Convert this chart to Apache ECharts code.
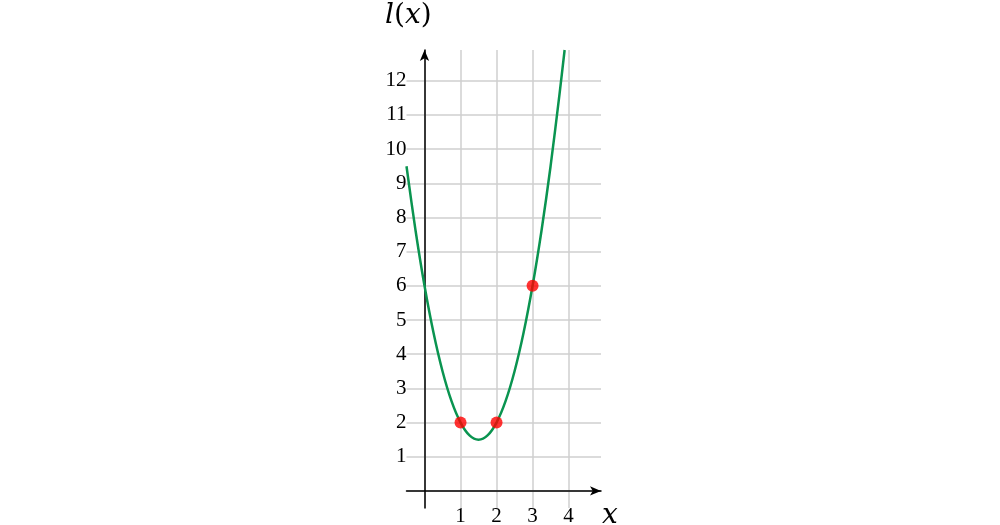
<!DOCTYPE html>
<html>
<head>
<meta charset="utf-8">
<script src="https://cdn.jsdelivr.net/npm/echarts@6/dist/echarts.min.js"></script>
<style>html,body{margin:0;padding:0;background:#fff;}#c{width:1000px;height:525px;}</style>
</head>
<body>
<div id="c"></div>
<script>
// curve l(x)
var curveX = [-0.5, -0.25, 0, 0.25, 0.5, 0.75, 1, 1.25, 1.5, 1.75, 2, 2.25, 2.5, 2.75, 3, 3.25, 3.5, 3.75, 3.89];
var curveY = [9.5, 7.625, 6, 4.625, 3.5, 2.625, 2, 1.625, 1.5, 1.625, 2, 2.625, 3.5, 4.625, 6, 7.625, 9.5, 11.625, 12.9];
// highlighted points
var pointX = [1, 2, 3];
var pointY = [2, 2, 6];
var xTickLabels = [1, 2, 3, 4];
var yTickLabels = [1, 2, 3, 4, 5, 6, 7, 8, 9, 10, 11, 12];
var xName = 'x';
var yNameFunc = 'l';
var yNameArg = 'x';

var curve = curveX.map(function (x, i) { return [x, curveY[i]]; });
var pts = pointX.map(function (x, i) { return [x, pointY[i]]; });

var chart = echarts.init(document.getElementById('c'));
var serif = 'Liberation Serif';
var mathFont = 'DejaVu Serif';
chart.setOption({
  animation: false,
  backgroundColor: '#fff',
  grid: { left: 406.5, right: 399, top: 50, bottom: 17, containLabel: false, outerBoundsMode: 'none' },
  xAxis: {
    type: 'value', min: -0.5, max: 4.9, splitNumber: 5,
    axisLine: { onZero: true, lineStyle: { color: '#000', width: 1.5 }, symbol: ['none', 'arrow'], symbolSize: [7, 11], symbolOffset: [0, 0] },
    axisTick: { show: false },
    splitLine: { show: true, showMinLine: false, showMaxLine: false, lineStyle: { color: '#cfcfcf', width: 1.5 } },
    axisLabel: {
      margin: -2, fontFamily: serif, fontSize: 21, color: '#000',
      showMinLabel: false, showMaxLabel: false,
      formatter: function (v) { return xTickLabels.indexOf(v) >= 0 ? String(v) : ''; }
    }
  },
  yAxis: {
    type: 'value', min: -0.5, max: 12.9, splitNumber: 13,
    axisLine: { onZero: true, lineStyle: { color: '#000', width: 1.5 }, symbol: ['none', 'arrow'], symbolSize: [7, 11], symbolOffset: [0, 0] },
    axisTick: { show: false },
    splitLine: { show: true, showMinLine: false, showMaxLine: false, lineStyle: { color: '#cfcfcf', width: 1.5 } },
    axisLabel: {
      margin: 0, fontFamily: serif, fontSize: 21, color: '#000',
      showMinLabel: false, showMaxLabel: false,
      formatter: function (v) { return yTickLabels.indexOf(v) >= 0 ? String(v) : ''; }
    }
  },
  series: [
    {
      type: 'line', data: curve, smooth: 0.3, showSymbol: false, symbol: 'none', clip: true,
      lineStyle: { color: '#0a9450', width: 2.5 }, z: 3
    },
    {
      type: 'scatter', data: pts, symbolSize: 12,
      itemStyle: { color: '#ff0000' }, z: 4
    }
  ],
  graphic: [
    { type: 'text', left: 385, top: 2, style: {
      text: '{i|' + yNameFunc + '}{u|(}{i|' + yNameArg + '}{u|)}',
      rich: {
        i: { fontFamily: mathFont, fontStyle: 'italic', fontSize: 28, fill: '#000' },
        u: { fontFamily: mathFont, fontSize: 28, fill: '#000' }
      },
      fill: '#000'
    } },
    { type: 'text', left: 602, top: 502, style: { text: xName, fontFamily: mathFont, fontStyle: 'italic', fontSize: 28, fill: '#000' } }
  ]
});
</script>
</body>
</html>
